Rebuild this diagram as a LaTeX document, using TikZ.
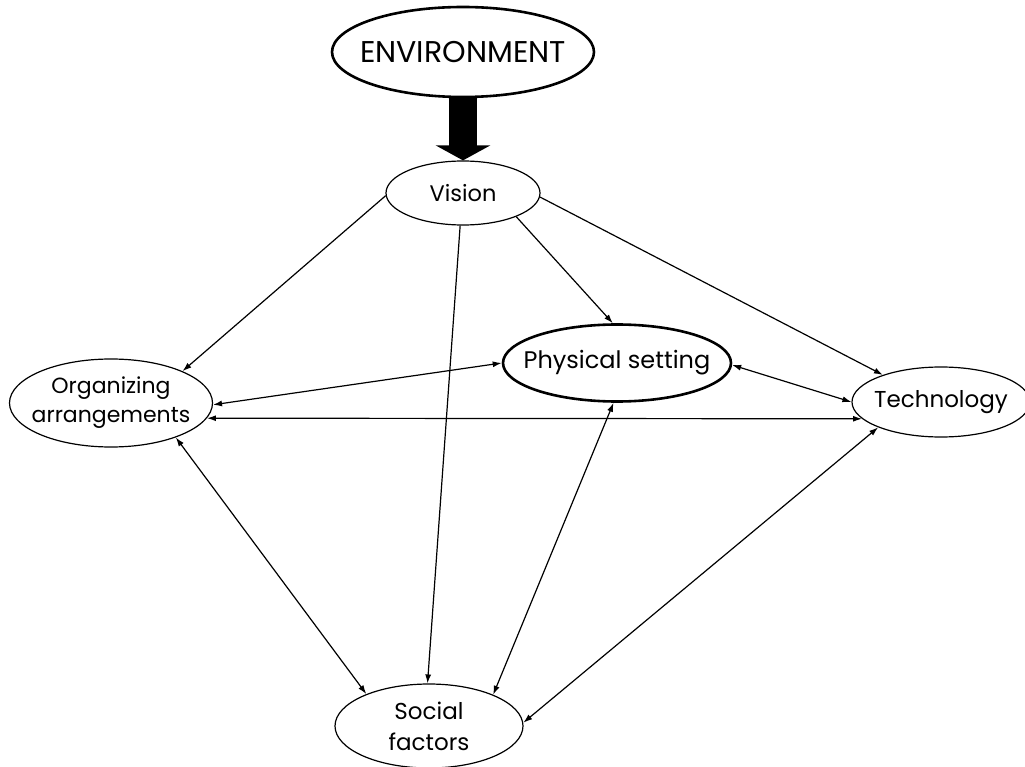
\documentclass[tikz,border=0pt]{standalone}
\usepackage{fontspec}
\setmainfont{Poppins}
\usetikzlibrary{shapes.geometric,arrows.meta}
% a line of text that leaves the ellipse size to the node's minimum size
\newcommand{\bubline}[1]{\makebox[0pt][c]{#1}}
\begin{document}
\begin{tikzpicture}[x=1pt,y=-1pt,
  bub/.style={ellipse, draw, line width=1.2pt, inner sep=0pt, align=center,
    font=\fontsize{22.5}{30}\selectfont},
  bold bub/.style={bub, line width=2.6pt},
  tip/.tip={Latex[length=9pt,width=6pt]},
  link/.style={line width=1.2pt, -tip},
  both/.style={line width=1.2pt, tip-tip},
  big arrow/.style={line width=28pt, -{Triangle[length=15pt,width=54pt]}}]
\useasboundingbox (0,0) rectangle (1025,767);

% nodes
\node[bold bub, minimum width=262pt, minimum height=90pt,
  font=\fontsize{30}{34}\selectfont] (env) at (463,52) {\bubline{ENVIRONMENT}};
\node[bub, minimum width=154pt, minimum height=64pt] (vision) at (463,193) {\bubline{Vision}};
\node[bub, minimum width=203pt, minimum height=88pt,
  font=\fontsize{22}{29}\selectfont] (org) at (111,403) {\bubline{Organizing}\\\bubline{arrangements}};
\node[bold bub, minimum width=228pt, minimum height=77pt,
  font=\fontsize{24}{28}\selectfont] (phys) at (617,363) {\bubline{Physical setting}};
\node[bub, minimum width=178pt, minimum height=70pt,
  font=\fontsize{23}{28}\selectfont] (tech) at (941,402) {\bubline{Technology}};
\node[bub, minimum width=188pt, minimum height=84pt,
  font=\fontsize{23}{31}\selectfont] (soc) at (429,726) {\bubline{Social}\\\bubline{factors}};

% environment drives the vision
\draw[big arrow] (env.south) -- (vision.north);

% vision to the four factors
\draw[link] (vision.182) -- (org.24);
\draw[link] (vision.265) -- (soc.92);
\draw[link] (vision.336) -- (phys.96);
\draw[link] (vision.-3) -- (tech.155);

% mutual links
\draw[both] (org.-1) -- (phys.180);
\draw[both] (org.-9) -- (tech.192);
\draw[both] (phys.-1) -- (tech.180);
\draw[both] (org.-28) -- (soc.153);
\draw[both] (phys.265) -- (soc.26);
\draw[both] (tech.202) -- (soc.2);
\end{tikzpicture}
\end{document}
